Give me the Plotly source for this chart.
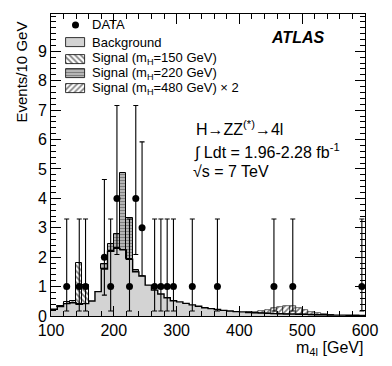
import plotly.graph_objects as go

# ---- data ----
bin_centers = [105 + 10 * i for i in range(50)]
background = [0.23, 0.32, 0.42, 0.45, 0.40, 0.42, 0.51, 0.83, 1.60, 2.20,
              2.30, 2.25, 1.93, 1.50, 1.36, 1.05, 0.88, 0.75, 0.62, 0.52,
              0.48, 0.43, 0.38, 0.33, 0.28, 0.25, 0.22, 0.19, 0.17, 0.15,
              0.14, 0.12, 0.11, 0.10, 0.09, 0.08, 0.075, 0.07, 0.065, 0.06,
              0.055, 0.05, 0.045, 0.04, 0.035, 0.03, 0.03, 0.025, 0.025, 0.02]
sig150 = [0, 0.02, 0.05, 0.07, 1.40, 0.64, 0, 0, 0, 0] + [0] * 40
sig220 = [0] * 8 + [0.17, 0.25, 0.50, 2.60, 1.40, 0.05, 0] + [0] * 35
sig480x2 = [0] * 31 + [0.02, 0.04, 0.07, 0.12, 0.18, 0.24, 0.27, 0.27, 0.22,
                       0.16, 0.10, 0.06, 0.03, 0.01] + [0] * 5

data_x = [125, 145, 155, 185, 195, 205, 225, 235, 245, 265, 275, 285, 295,
          325, 365, 455, 485, 595]
data_y = [1, 1, 1, 2, 1, 4, 1, 4, 3, 1, 1, 1, 1, 1, 1, 1, 1, 1]
err_up = {1: 2.30, 2: 2.64, 3: 2.92, 4: 3.16}
err_dn = {1: 0.83, 2: 1.29, 3: 1.63, 4: 1.91}

x_ticks = [100, 200, 300, 400, 500, 600]
y_ticks = list(range(10))

legend_labels = ["DATA", "Background", "Signal (m<sub>H</sub>=150 GeV)",
                 "Signal (m<sub>H</sub>=220 GeV)", "Signal (m<sub>H</sub>=480 GeV) × 2"]

FONT = "Liberation Sans"

# page geometry (browser body has an 8px margin)
PAGE_OFF = 8
PLOT_L, PLOT_R, PLOT_T, PLOT_B = 51, 365, 14, 316
FIG_W, FIG_H = 376, 350


def px_to_paper_x(px):
    return (px - PLOT_L) / (PLOT_R - PLOT_L)


def px_to_paper_y(py):
    return (PLOT_B - py) / (PLOT_B - PLOT_T)


def nz(v):
    return [val if val > 0 else None for val in v]


base150 = background
base220 = [a + b for a, b in zip(background, sig150)]
base480 = [a + b + c for a, b, c in zip(background, sig150, sig220)]

pat150 = dict(shape="\\", size=4, solidity=0.45, fgcolor="black", bgcolor="white")
pat220 = dict(shape="-", size=3, solidity=0.72, fgcolor="black", bgcolor="white")
pat480 = dict(shape="/", size=4, solidity=0.4, fgcolor="black", bgcolor="white")

fig = go.Figure()

fig.add_trace(go.Bar(x=bin_centers, y=background, width=10,
                     marker=dict(color="#d3d3d3", line=dict(width=0))))
fig.add_trace(go.Bar(x=bin_centers, y=nz(sig150), base=base150, width=10,
                     marker=dict(color="white", line=dict(color="black", width=1),
                                 pattern=pat150)))
fig.add_trace(go.Bar(x=bin_centers, y=nz(sig220), base=base220, width=10,
                     marker=dict(color="white", line=dict(color="black", width=1),
                                 pattern=pat220)))
fig.add_trace(go.Bar(x=bin_centers, y=nz(sig480x2), base=base480, width=10,
                     marker=dict(color="white", line=dict(color="black", width=0.6),
                                 pattern=pat480)))

# background outline (step)
edges = [100 + 10 * i for i in range(51)]
fig.add_trace(go.Scatter(x=edges, y=background + [background[-1]], mode="lines",
                         line=dict(color="black", width=1.4, shape="hv"),
                         hoverinfo="skip"))

fig.add_trace(go.Scatter(x=data_x, y=data_y, mode="markers",
                         marker=dict(color="black", size=7),
                         error_y=dict(type="data", symmetric=False,
                                      array=[err_up[v] for v in data_y],
                                      arrayminus=[err_dn[v] for v in data_y],
                                      color="black", thickness=1.1, width=2.5)))

# ---- manual legend (overlay axes in paper units) ----
row_y = [25, 42, 59, 73, 88]          # legend row centres, page px
sw_x0, sw_x1, sw_h = 66, 85, 9        # swatch box, page px
text_x = 90
sw_c = px_to_paper_x((sw_x0 + sw_x1) / 2)
sw_w = px_to_paper_x(sw_x1) - px_to_paper_x(sw_x0)
sw_hh = sw_h / (PLOT_B - PLOT_T)

fig.add_trace(go.Scatter(x=[sw_c], y=[px_to_paper_y(row_y[0])], mode="markers",
                         marker=dict(color="black", size=7), xaxis="x2", yaxis="y2",
                         hoverinfo="skip"))
sw_styles = [
    dict(color="#d3d3d3", line=dict(color="black", width=0.8)),
    dict(color="white", line=dict(color="black", width=0.8), pattern=pat150),
    dict(color="white", line=dict(color="black", width=0.8), pattern=pat220),
    dict(color="white", line=dict(color="black", width=0.8), pattern=pat480),
]
for ry, st in zip(row_y[1:], sw_styles):
    fig.add_trace(go.Bar(x=[sw_c], y=[sw_hh], base=[px_to_paper_y(ry) - sw_hh / 2],
                         width=[sw_w], marker=st, xaxis="x2", yaxis="y2",
                         hoverinfo="skip"))
for ry, lab in zip(row_y, legend_labels):
    fig.add_annotation(text=lab, xref="paper", yref="paper",
                       x=px_to_paper_x(text_x), y=px_to_paper_y(ry),
                       xanchor="left", yanchor="middle", showarrow=False,
                       font=dict(size=13))

fig.update_layout(
    width=FIG_W, height=FIG_H,
    margin=dict(l=PLOT_L - PAGE_OFF, r=PAGE_OFF + FIG_W - PLOT_R,
                t=PLOT_T - PAGE_OFF, b=PAGE_OFF + FIG_H - PLOT_B),
    paper_bgcolor="white", plot_bgcolor="white",
    barmode="overlay", bargap=0,
    font=dict(family=FONT, color="black"),
    showlegend=False,
    xaxis=dict(range=[100, 600], tickvals=x_ticks, ticktext=[str(v) for v in x_ticks],
               ticks="inside", ticklen=10, tickwidth=1, tickcolor="black",
               showline=True, linecolor="black", linewidth=1, mirror="ticks",
               showgrid=False, zeroline=False, tickfont=dict(size=16),
               minor=dict(dtick=20, tick0=100, ticks="inside", ticklen=5,
                          tickcolor="black", showgrid=False)),
    yaxis=dict(range=[0, 10.27], tickvals=y_ticks, ticktext=[str(v) for v in y_ticks],
               ticks="inside", ticklen=10, tickwidth=1, tickcolor="black",
               showline=True, linecolor="black", linewidth=1, mirror="ticks",
               showgrid=False, zeroline=False, tickfont=dict(size=16),
               minor=dict(dtick=0.2, tick0=0, ticks="inside", ticklen=5,
                          tickcolor="black", showgrid=False)),
    xaxis2=dict(range=[0, 1], overlaying="x", visible=False, fixedrange=True),
    yaxis2=dict(range=[0, 1], overlaying="y", visible=False, fixedrange=True),
)

fig.add_annotation(text="m<sub>4l</sub> [GeV]", xref="paper", yref="paper",
                   x=1.0, y=px_to_paper_y(348), xanchor="right", yanchor="middle",
                   showarrow=False, font=dict(size=16))
fig.add_annotation(text="Events/10 GeV", xref="paper", yref="paper",
                   x=px_to_paper_x(21), y=px_to_paper_y(20), xanchor="center",
                   yanchor="top", textangle=-90, showarrow=False, font=dict(size=15))
fig.add_annotation(text="<b><i>ATLAS</i></b>", xref="paper", yref="paper",
                   x=px_to_paper_x(326), y=px_to_paper_y(38), xanchor="right",
                   yanchor="middle", showarrow=False, font=dict(size=16))
fig.add_annotation(text="H→ZZ<sup>(*)</sup>→4l", xref="paper", yref="paper",
                   x=px_to_paper_x(194), y=px_to_paper_y(128), xanchor="left",
                   yanchor="middle", showarrow=False, font=dict(size=16))
fig.add_annotation(text="∫ Ldt = 1.96-2.28 fb<sup>-1</sup>", xref="paper", yref="paper",
                   x=px_to_paper_x(192), y=px_to_paper_y(151), xanchor="left",
                   yanchor="middle", showarrow=False, font=dict(size=16))
fig.add_annotation(text="√s = 7 TeV", xref="paper", yref="paper",
                   x=px_to_paper_x(191), y=px_to_paper_y(171), xanchor="left",
                   yanchor="middle", showarrow=False, font=dict(size=16))

fig.write_html("out.html")
